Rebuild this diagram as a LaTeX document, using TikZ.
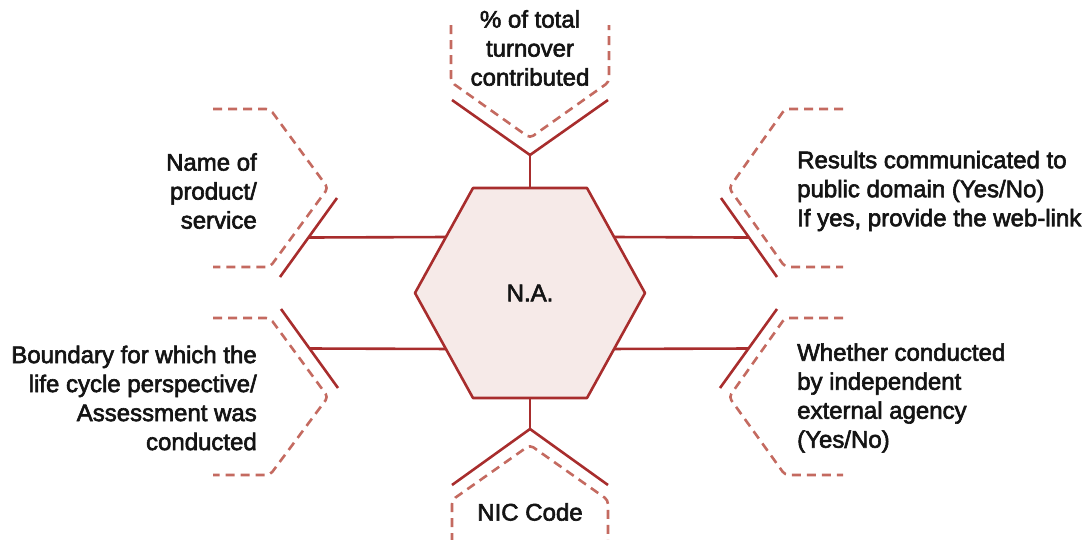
\documentclass[tikz,border=0pt]{standalone}
\usepackage{fontspec}
\newfontfamily\labfont{Liberation Sans}
\usetikzlibrary{calc}
\definecolor{solidred}{RGB}{168,45,45}
\definecolor{dashred}{RGB}{196,106,96}
\definecolor{hexfill}{RGB}{246,234,232}
\tikzset{
  solidline/.style={draw=solidred, line width=2.6pt},
  dashline/.style={draw=dashred, line width=2.6pt, dash pattern=on 9pt off 6pt, rounded corners=4pt},
  lab/.style={font=\labfont\fontsize{24}{29}\selectfont, inner sep=0pt, text=black!92,
    execute at begin node={\special{pdf:literal direct 2 Tr 0.6 w}},
    execute at end node={\special{pdf:literal direct 0 Tr}}},
}
\begin{document}
\begin{tikzpicture}[x=1pt,y=-1pt]
\useasboundingbox (0,0) rectangle (1087,539);
% hexagon
\coordinate (h1) at (473,188);
\coordinate (h2) at (587,188);
\coordinate (h3) at (645,293);
\coordinate (h4) at (587,398);
\coordinate (h5) at (473,398);
\coordinate (h6) at (415,293);
\filldraw[solidline, fill=hexfill, line join=round] (h1)--(h2)--(h3)--(h4)--(h5)--(h6)--cycle;
\node[lab] (hex) at (530,293) {N.A.};

% top branch
\coordinate (ht) at (530,188);
\coordinate (ft) at (530,155);
\coordinate (ta1) at (452,100);
\coordinate (ta2) at (608,100);
\draw[solidline] (ht) -- (ft);
\draw[solidline] (ta1) -- (ft) -- (ta2);
\draw[dashline] (451,25) -- (451,82) -- (530,138) -- (609,82) -- (609,25);
\node[lab, align=center] (tTop) at (530,48) {\% of total\\turnover\\contributed};

% left upper branch
\coordinate (lu1) at (337,198);
\coordinate (lu2) at (280,277);
\coordinate (fLU) at ($(lu1)!0.5!(lu2)$);
\coordinate (hLU) at ($(h1)!0.4667!(h6)$);
\draw[solidline] (lu1) -- (lu2);
\draw[solidline] (fLU) -- (hLU);
\draw[dashline] (213,109) -- (270,109) -- (328,188) -- (270,267) -- (213,267);
\node[lab, align=right, anchor=east] (tName) at (257,191) {Name of\\product/\\service};

% right upper branch
\coordinate (ru1) at (721,198);
\coordinate (ru2) at (777,277);
\coordinate (fRU) at ($(ru1)!0.5!(ru2)$);
\coordinate (hRU) at ($(h2)!0.4667!(h3)$);
\draw[solidline] (ru1) -- (ru2);
\draw[solidline] (hRU) -- (fRU);
\draw[dashline] (843,109) -- (785,109) -- (729,188) -- (785,267) -- (843,267);
\node[lab, align=left, anchor=west] (tRes) at (797,191) {Results communicated to\\public domain (Yes/No)\\If yes, provide the web-link};

% left lower branch
\coordinate (ll1) at (281,309);
\coordinate (ll2) at (338,388);
\coordinate (fLL) at ($(ll1)!0.5!(ll2)$);
\coordinate (hLL) at ($(h6)!0.533!(h5)$);
\draw[solidline] (ll1) -- (ll2);
\draw[solidline] (fLL) -- (hLL);
\draw[dashline] (213,318) -- (270,318) -- (328,397) -- (270,475) -- (213,475);
\node[lab, align=right, anchor=east] (tBnd) at (257,398) {Boundary for which the\\life cycle perspective/\\Assessment was\\conducted};

% right lower branch
\coordinate (rl1) at (777,309);
\coordinate (rl2) at (720,388);
\coordinate (fRL) at ($(rl1)!0.5!(rl2)$);
\coordinate (hRL) at ($(h3)!0.533!(h4)$);
\draw[solidline] (rl1) -- (rl2);
\draw[solidline] (hRL) -- (fRL);
\draw[dashline] (843,318) -- (785,318) -- (729,397) -- (785,475) -- (843,475);
\node[lab, align=left, anchor=west] (tWh) at (797,398) {Whether conducted\\by independent\\external agency\\(Yes/No)};

% bottom branch
\coordinate (hb) at (530,398);
\coordinate (fb) at (530,429);
\coordinate (ba1) at (452,485);
\coordinate (ba2) at (608,485);
\draw[solidline] (hb) -- (fb);
\draw[solidline] (ba1) -- (fb) -- (ba2);
\draw[dashline] (452,542) -- (452,500) -- (530,445) -- (608,500) -- (608,542);
\node[lab] (tNic) at (530,512) {NIC Code};
\end{tikzpicture}
\end{document}
